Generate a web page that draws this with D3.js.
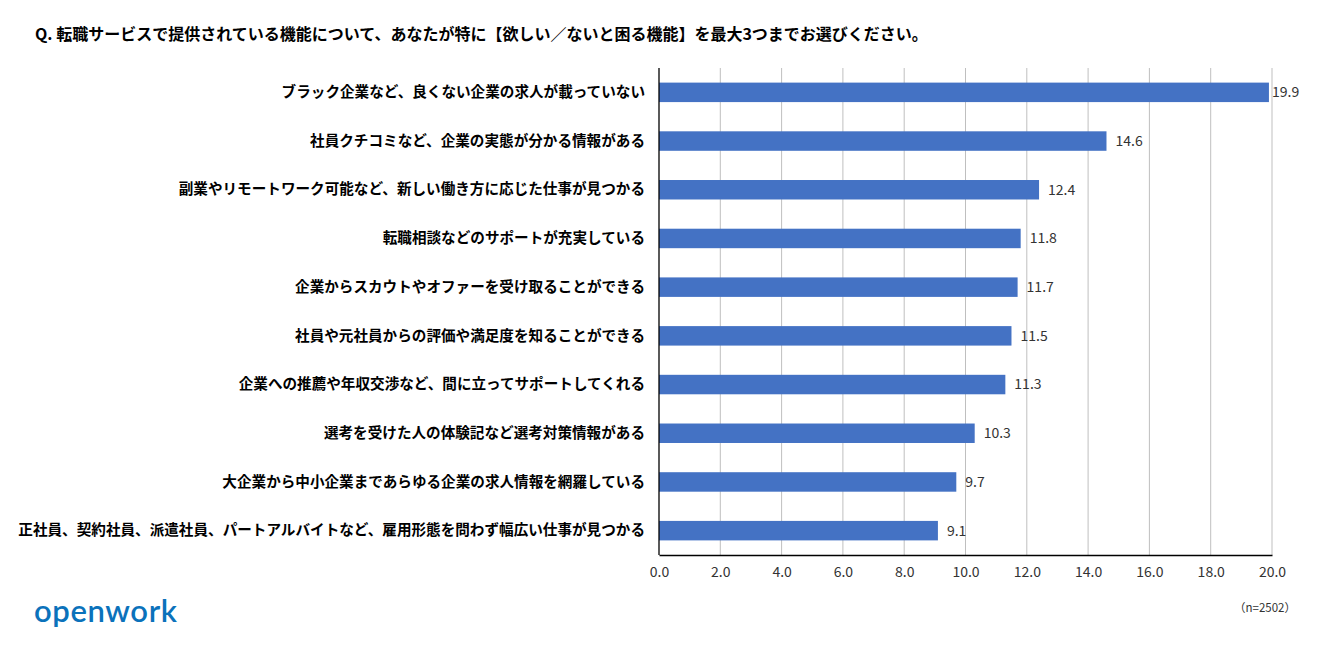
<!DOCTYPE html>
<html>
<head>
<meta charset="utf-8">
<script src="https://cdn.jsdelivr.net/npm/d3@7"></script>
<style>
  body { margin: 0; background: #fff; }
  text { font-family: "Noto Sans CJK JP", "Noto Sans", sans-serif; }
</style>
</head>
<body>
<div id="chart"></div>
<script>
"use strict";

// chart data
const categories = [
    "ブラック企業など、良くない企業の求人が載っていない",
    "社員クチコミなど、企業の実態が分かる情報がある",
    "副業やリモートワーク可能など、新しい働き方に応じた仕事が見つかる",
    "転職相談などのサポートが充実している",
    "企業からスカウトやオファーを受け取ることができる",
    "社員や元社員からの評価や満足度を知ることができる",
    "企業への推薦や年収交渉など、間に立ってサポートしてくれる",
    "選考を受けた人の体験記など選考対策情報がある",
    "大企業から中小企業まであらゆる企業の求人情報を網羅している",
    "正社員、契約社員、派遣社員、パートアルバイトなど、雇用形態を問わず幅広い仕事が見つかる"
];
const values = [19.9, 14.6, 12.4, 11.8, 11.7, 11.5, 11.3, 10.3, 9.7, 9.1];
const ticks = [0, 2, 4, 6, 8, 10, 12, 14, 16, 18, 20];

const titleText = "Q. 転職サービスで提供されている機能について、あなたが特に【欲しい／ないと困る機能】を最大3つまでお選びください。";
const noteText = "（n=2502）";

const size = { width: 1333, height: 657 };
const plot = { left: 659, right: 1272, top: 68, bottom: 555 };

let svg = d3.select("#chart").append("svg")
    .attr("width", size.width)
    .attr("height", size.height);

//title
svg.append("text")
    .attr("x", 35)
    .attr("y", 40)
    .attr("font-size", 16)
    .attr("font-weight", "bold")
    .attr("fill", "#000")
    .text(titleText);

//scales
let x = d3.scaleLinear()
    .domain([0, 20])
    .range([plot.left, plot.right]);

let y = d3.scaleBand()
    .domain(categories)
    .range([plot.top, plot.bottom])
    .paddingInner(0.6)
    .paddingOuter(0.3);

//vertical gridlines
svg.append("g")
    .selectAll("line")
    .data(ticks.filter(t => t > 0))
    .enter()
    .append("line")
    .attr("x1", d => x(d))
    .attr("x2", d => x(d))
    .attr("y1", plot.top)
    .attr("y2", plot.bottom)
    .attr("stroke", "#bfbfbf")
    .attr("stroke-width", 1);

//bars
svg.append("g")
    .selectAll("rect")
    .data(values)
    .enter()
    .append("rect")
    .attr("x", x(0))
    .attr("y", (_, i) => y(categories[i]))
    .attr("width", d => x(d) - x(0))
    .attr("height", y.bandwidth())
    .attr("fill", "#4472c4");

//value labels, kept inside the plot on the right edge
svg.append("g")
    .selectAll("text")
    .data(values)
    .enter()
    .append("text")
    .attr("x", d => Math.min(x(d) + 9, x(20)))
    .attr("y", (_, i) => y(categories[i]) + y.bandwidth() / 2)
    .attr("dy", "0.35em")
    .attr("font-size", 14)
    .attr("fill", "#333")
    .text(d => d.toFixed(1));

//category axis
let yAxis = svg.append("g")
    .attr("transform", `translate(${plot.left},0)`)
    .call(d3.axisLeft(y).tickSize(0).tickPadding(14));
yAxis.select(".domain").attr("stroke", "#000").attr("stroke-width", 1.3)
    .attr("d", `M0,${plot.top}V${plot.bottom}`);
yAxis.selectAll("text")
    .attr("font-size", 14.6)
    .attr("font-weight", "bold")
    .attr("fill", "#000")
    .style("font-family", "'Noto Sans CJK JP', sans-serif");

//value axis
let xAxis = svg.append("g")
    .attr("transform", `translate(0,${plot.bottom})`)
    .call(d3.axisBottom(x).tickValues(ticks).tickSize(0).tickPadding(12)
        .tickFormat(d => d.toFixed(1)));
xAxis.select(".domain").attr("stroke", "#000").attr("stroke-width", 1.3);
xAxis.selectAll("text")
    .attr("font-size", 14)
    .attr("fill", "#333")
    .style("font-family", "'Noto Sans CJK JP', sans-serif");

//sample size note
svg.append("text")
    .attr("x", 1296)
    .attr("y", 612)
    .attr("text-anchor", "end")
    .attr("font-size", 11.5)
    .attr("fill", "#333")
    .text(noteText);

//brand logo as text
svg.append("text")
    .attr("x", 34)
    .attr("y", 622)
    .attr("font-size", 31)
    .attr("font-weight", 600)
    .attr("letter-spacing", 0.6)
    .attr("fill", "#0b72bb")
    .style("font-family", "Lato, 'Open Sans', sans-serif")
    .text("openwork");
</script>
</body>
</html>
